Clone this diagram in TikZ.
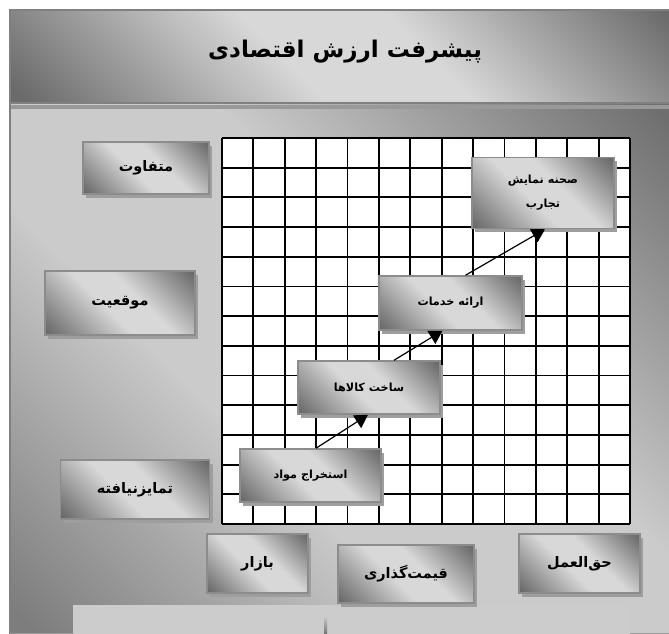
\documentclass[tikz,border=0pt]{standalone}
\usepackage{fontspec}
\newfontfamily\farsi[Script=Arabic]{DejaVu Sans}
\TeXXeTstate=1
\newcommand{\fatext}[1]{{\farsi\bfseries\beginR #1\endR}}
\usetikzlibrary{positioning,calc,arrows.meta,shadows}
\definecolor{sheendark}{HTML}{6A6A6A}
\definecolor{sheenlight}{HTML}{D8D8D8}
\definecolor{bodydark}{HTML}{6E6E6E}
\definecolor{bodylight}{HTML}{CBCBCB}
\pgfdeclarehorizontalshading{sheen}{100bp}{color(0bp)=(sheendark); color(16bp)=(sheendark); color(44bp)=(sheenlight); color(58bp)=(sheenlight); color(84bp)=(sheendark); color(100bp)=(sheendark)}
\pgfdeclarehorizontalshading{bodysheen}{100bp}{color(0bp)=(bodydark!90!white); color(16bp)=(bodydark!90!white); color(40bp)=(bodylight); color(58bp)=(bodylight); color(84bp)=(bodydark); color(100bp)=(bodydark)}

\begin{document}
\begin{tikzpicture}[x=1pt,y=-1pt,
    card/.style={draw=black!45, line width=1.5pt, shading=sheen, shading angle=45, inner sep=0pt,
      drop shadow={shadow xshift=3pt, shadow yshift=-3.5pt, fill=black!38, opacity=1}},
    sidecard/.style={card, font=\fontsize{14.5}{16}\selectfont},
    gridcard/.style={card, align=center, font=\fontsize{11.2}{24}\selectfont},
    flow/.style={-{Triangle[length=13pt,width=15pt]}, line width=1.2pt}]
    \useasboundingbox (0,0) rectangle (669,634);
    \shade[shading=bodysheen, shading angle=45] (10,104) rectangle (680,634);
    \shade[shading=sheen, shading angle=45] (10,10) rectangle (680,103);
    \fill[black!40] (10,105) rectangle (680,109);
    \draw[black!50, line width=1.5pt] (10,103) -- (680,103);
    \draw[black!50, line width=1.5pt] (10,640) -- (10,10) -- (680,10);
    \draw[black!40, line width=1pt] (10,633) -- (680,633);
    \fill[black!20] (73,605) rectangle (630,634);
    \shade[top color=black!20, bottom color=black!55] (324,616) rectangle (327,634);
    \node[font=\fontsize{23}{26}\selectfont] (title) at (345,52) {\fatext{پیشرفت ارزش اقتصادی}};
    \fill[white] (222,138) rectangle (630,524);
    \foreach \i in {0,...,13} {
      \draw[line width=1.8pt] ({222+\i*408/13},138) -- ({222+\i*408/13},524);
      \draw[line width=1.8pt] (222,{138+\i*386/13}) -- (630,{138+\i*386/13});
    }
    \node[sidecard, minimum width=126pt, minimum height=52pt] (diff) at (146,168) {\fatext{متفاوت}};
    \node[sidecard, minimum width=150pt, minimum height=64pt] (place) at (120,303) {\fatext{موقعیت}};
    \node[sidecard, minimum width=149pt, minimum height=59pt] (undiff) at (135,489.5) {\fatext{تمایزنیافته}};
    \node[sidecard, minimum width=101pt, minimum height=59pt] (market) at (257.5,563.5) {\fatext{بازار}};
    \node[sidecard, minimum width=136pt, minimum height=58pt] (pricing) at (406,574) {\fatext{قیمت^^^^200cگذاری}};
    \node[sidecard, minimum width=121pt, minimum height=59pt] (fee) at (579.5,563.5) {\fatext{حق^^^^200cالعمل}};
    \node[gridcard, minimum width=141pt, minimum height=53pt] (extract) at (310.5,475.5) {\fatext{استخراج مواد}};
    \node[gridcard, minimum width=142pt, minimum height=53pt] (goods) at (369,387.5) {\fatext{ساخت کالاها}};
    \node[gridcard, minimum width=143pt, minimum height=54pt] (services) at (450.5,303) {\fatext{ارائه خدمات}};
    \node[gridcard, minimum width=142pt, minimum height=71pt] (stage) at (543,193) {\fatext{صحنه نمایش}\\\fatext{تجارب}};
    \draw[flow] ($(extract.north)+(5.5,0)$) -- ($(goods.south)+(-1,0)$);
    \draw[flow] ($(goods.north)+(25,0)$) -- ($(services.south)+(-8,0)$);
    \draw[flow] ($(services.north)+(15,0)$) -- ($(stage.south)+(2,0)$);
\end{tikzpicture}
\end{document}
